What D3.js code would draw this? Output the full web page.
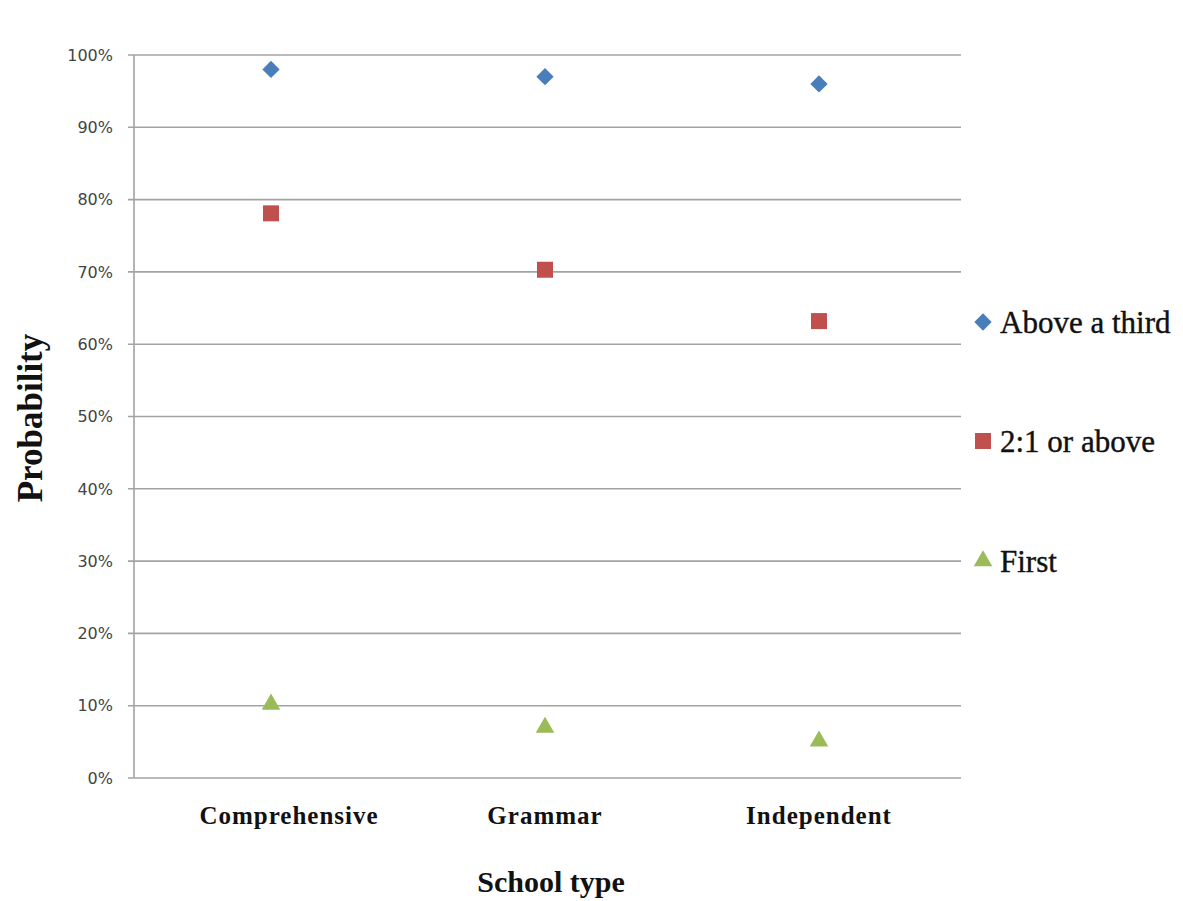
<!DOCTYPE html>
<html>
<head>
<meta charset="utf-8">
<script src="https://cdn.jsdelivr.net/npm/d3@7"></script>
<style>
  html, body { margin: 0; padding: 0; background: #fff; }
  svg { display: block; }
</style>
</head>
<body>
<div id="chart"></div>
<script>
const categories = ["Comprehensive", "Grammar", "Independent"];
const seriesNames = ["Above a third", "2:1 or above", "First"];
const aboveThird = [98, 97, 96];
const twoOneOrAbove = [78.1, 70.3, 63.2];
const first = [10.2, 7.0, 5.1];
const yTicks = [0, 10, 20, 30, 40, 50, 60, 70, 80, 90, 100];

const colors = ["#4a7ebb", "#c0504d", "#9bbb59"];
const markerKinds = ["diamond", "square", "triangle"];
const series = [aboveThird, twoOneOrAbove, first].map((vals, i) => ({
  name: seriesNames[i], values: vals, color: colors[i], kind: markerKinds[i]
}));

function markerPath(kind) {
  if (kind === "diamond") return d3.symbol().type(d3.symbolSquare).size(150)();
  if (kind === "square") return d3.symbol().type(d3.symbolSquare).size(256)();
  return d3.symbol().type(d3.symbolTriangle).size(150)();
}
function markerRot(kind) { return kind === "diamond" ? " rotate(45)" : ""; }

const W = 1183, H = 901;
const m = { left: 134, top: 55, right: 227, bottom: 123 };
const innerW = W - m.left - m.right;
const innerH = H - m.top - m.bottom;

const svg = d3.select("#chart").append("svg").attr("width", W).attr("height", H);
const g = svg.append("g").attr("transform", `translate(${m.left},${m.top})`);

const x = d3.scaleBand().domain(categories).range([0, innerW]);
const y = d3.scaleLinear().domain([0, 100]).range([innerH, 0]);

// gridlines
g.append("g").selectAll("line").data(yTicks).join("line")
  .attr("x1", -6).attr("x2", innerW + 5)
  .attr("y1", d => y(d)).attr("y2", d => y(d))
  .attr("stroke", "#a3a3a3").attr("stroke-width", 1.6);

// y axis line
g.append("line").attr("x1", 0).attr("x2", 0).attr("y1", 0).attr("y2", innerH)
  .attr("stroke", "#a3a3a3").attr("stroke-width", 1.6);

// y tick labels
g.append("g").selectAll("text").data(yTicks).join("text")
  .attr("x", -21).attr("y", d => y(d)).attr("dy", "0.36em")
  .attr("text-anchor", "end")
  .attr("font-family", "DejaVu Sans, Verdana, sans-serif")
  .attr("font-size", 16).attr("fill", "#444")
  .text(d => d + "%");

// x labels
g.append("g").selectAll("text").data(categories).join("text")
  .attr("x", d => x(d) + x.bandwidth() / 2 + (d === "Comprehensive" ? 18 : 0))
  .attr("y", innerH + 46)
  .attr("text-anchor", "middle")
  .attr("font-family", "Liberation Serif, Times New Roman, serif")
  .attr("font-weight", "bold").attr("font-size", 25)
  .attr("letter-spacing", 1).attr("fill", "#111")
  .text(d => d);

// points
series.forEach(s => {
  g.append("g").selectAll("path").data(s.values).join("path")
    .attr("transform", (v, i) => `translate(${x(categories[i]) + x.bandwidth() / 2},${y(v)})${markerRot(s.kind)}`)
    .attr("d", markerPath(s.kind))
    .attr("fill", s.color);
});

// axis titles
svg.append("text")
  .attr("transform", `translate(42,418) rotate(-90)`)
  .attr("text-anchor", "middle")
  .attr("font-family", "Liberation Serif, Times New Roman, serif")
  .attr("font-weight", "bold").attr("font-size", 35).attr("fill", "#111")
  .text("Probability");

svg.append("text")
  .attr("x", 551).attr("y", 892)
  .attr("text-anchor", "middle")
  .attr("font-family", "Liberation Serif, Times New Roman, serif")
  .attr("font-weight", "bold").attr("font-size", 30).attr("fill", "#111")
  .text("School type");

// legend
const legendY = [322, 441, 561];
const lg = svg.append("g");
series.forEach((s, i) => {
  lg.append("path")
    .attr("transform", `translate(983,${legendY[i]})${markerRot(s.kind)}`)
    .attr("d", markerPath(s.kind))
    .attr("fill", s.color);
  lg.append("text")
    .attr("x", 1000).attr("y", legendY[i] + 11)
    .attr("font-family", "Liberation Serif, Times New Roman, serif")
    .attr("font-size", 31).attr("fill", "#111")
    .attr("stroke", "#111").attr("stroke-width", 0.4)
    .text(s.name);
});
</script>
</body>
</html>
